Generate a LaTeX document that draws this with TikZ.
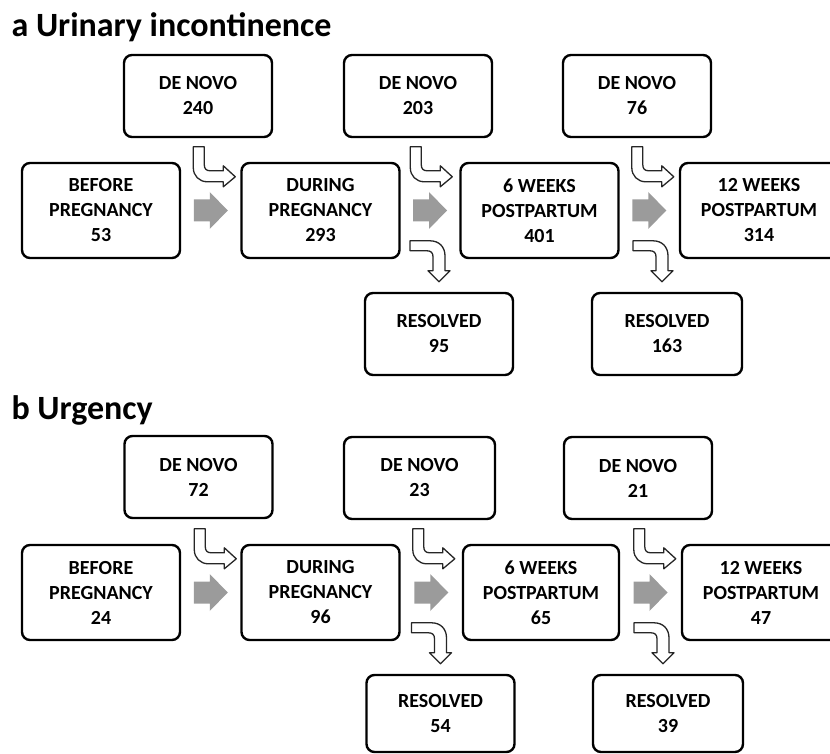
\documentclass[tikz,border=0pt]{standalone}
\usepackage{fontspec}
\setmainfont{Carlito}
\usetikzlibrary{calc}
\definecolor{flowgray}{RGB}{155,155,155}
\tikzset{
  box/.style={draw, line width=2.4pt, rounded corners=8pt, align=center, inner sep=0pt,
    font=\bfseries\fontsize{20}{25}\selectfont},
  stage/.style={box, minimum width=158pt, minimum height=95pt},
  novo/.style={box, minimum width=148pt, minimum height=82pt},
  hookline/.style={draw=black!85, fill=white, line width=1.3pt, line join=round},
  hookright/.pic={
    \draw[hookline] (-42,-30) -- (-31,-30) -- (-31,-12) .. controls (-31,-8) and (-29,-6) .. (-25,-6)
      -- (-12,-6) -- (-12,-11) -- (0,0) -- (-12,10) -- (-12,5) -- (-28,5)
      .. controls (-36,5) and (-42,-1) .. (-42,-9) -- cycle;
  },
  hookdown/.pic={
    \draw[hookline] (-29,-41) -- (-9,-41) .. controls (0,-41) and (6,-35) .. (6,-26)
      -- (6,-11) -- (11,-11) -- (0,0) -- (-11,-11) -- (-6,-11) -- (-6,-25)
      .. controls (-6,-29) and (-8,-31) .. (-12,-31) -- (-29,-31) -- cycle;
  },
  grayarrow/.pic={
    \fill[flowgray] (-17,-11) -- (-1,-11) -- (-1,-18.5) -- (17,0) -- (-1,18.5) -- (-1,11) -- (-17,11) -- cycle;
  }
}
\begin{document}
\begin{tikzpicture}[x=1pt, y=-1pt]
\useasboundingbox (0,0) rectangle (830,754);
\clip (0,0) rectangle (830,754);
% a: urinary incontinence
\node[anchor=base west, font=\bfseries\fontsize{34}{38}\selectfont] (tta) at (8,37) {a Urinary incontinence};
\node[stage] (ua0) at (101,210.5) {BEFORE\\PREGNANCY\\53};
\node[stage] (ua1) at (320.5,210.5) {DURING\\PREGNANCY\\293};
\node[stage] (ua2) at (539.5,210.5) {6 WEEKS\\POSTPARTUM\\401};
\node[stage] (ua3) at (759,210.5) {12 WEEKS\\POSTPARTUM\\314};
\node[novo] (ua4) at (198,96) {DE NOVO\\240};
\node[novo] (ua5) at (418,96) {DE NOVO\\203};
\node[novo] (ua6) at (637,96) {DE NOVO\\76};
\node[novo] (ua7) at (439,334) {RESOLVED\\95};
\node[novo, minimum width=150pt] (ua8) at (667,334) {RESOLVED\\163};
\pic at ($(ua0.east)!0.5!(ua1.west)$) {grayarrow};
\pic at ($(ua1.east)!0.5!(ua2.west)$) {grayarrow};
\pic at ($(ua2.east)!0.5!(ua3.west)$) {grayarrow};
\pic at ($(ua1.north west)+(-5,15)$) {hookright};
\pic at ($(ua2.north west)+(-7,15)$) {hookright};
\pic at ($(ua3.north west)+(-5,15)$) {hookright};
\pic at ($(ua7.north)+(0,-10)$) {hookdown};
\pic at ($(ua8.north)+(-5,-10)$) {hookdown};

% b: urgency
\node[anchor=base west, font=\bfseries\fontsize{34}{38}\selectfont] (ttb) at (8,419) {b Urgency};
\node[stage] (ug0) at (101,592.5) {BEFORE\\PREGNANCY\\24};
\node[stage] (ug1) at (320.5,592.5) {DURING\\PREGNANCY\\96};
\node[stage, minimum width=156pt] (ug2) at (541,592.5) {6 WEEKS\\POSTPARTUM\\65};
\node[stage] (ug3) at (761,592.5) {12 WEEKS\\POSTPARTUM\\47};
\node[novo] (ug4) at (198.5,477) {DE NOVO\\72};
\node[novo, minimum width=151pt] (ug5) at (419.5,478) {DE NOVO\\23};
\node[novo] (ug6) at (638,478) {DE NOVO\\21};
\node[novo, minimum height=77pt] (ug7) at (440.5,713.5) {RESOLVED\\54};
\node[novo, minimum width=150pt, minimum height=77pt] (ug8) at (668,713.5) {RESOLVED\\39};
\pic at ($(ug0.east)!0.5!(ug1.west)$) {grayarrow};
\pic at ($(ug1.east)!0.5!(ug2.west)$) {grayarrow};
\pic at ($(ug2.east)!0.5!(ug3.west)$) {grayarrow};
\pic at ($(ug1.north west)+(-4,15)$) {hookright};
\pic at ($(ug2.north west)+(-7,15)$) {hookright};
\pic at ($(ug3.north west)+(-5,15)$) {hookright};
\pic at ($(ug7.north)+(0,-10)$) {hookdown};
\pic at ($(ug8.north)+(-5,-10)$) {hookdown};

\end{tikzpicture}
\end{document}
